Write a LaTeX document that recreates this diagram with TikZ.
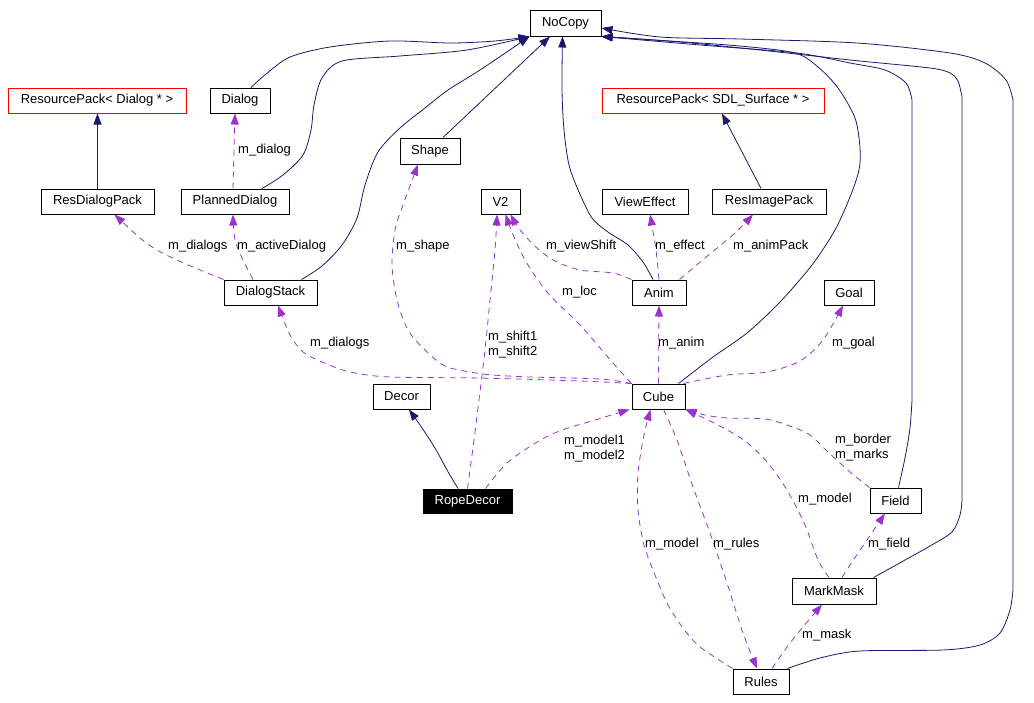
\documentclass[tikz,border=0pt]{standalone}
\usepackage{fontspec}
\setmainfont{Liberation Sans}
\usetikzlibrary{arrows.meta,calc}
\definecolor{navy}{HTML}{191970}
\definecolor{purp}{HTML}{9A32CD}
\begin{document}
\begin{tikzpicture}[x=1pt,y=-1pt,
  box/.style={draw=black,line width=1pt,minimum height=25pt,inner sep=0pt,font=\fontsize{13}{15}\selectfont},
  redbox/.style={box,draw=red},
  inh/.style={draw=navy,line width=0.8pt,-{Triangle[length=11pt,width=8pt]}},
  use/.style={draw=purp,line width=0.8pt,dash pattern=on 6pt off 5pt,-{Triangle[length=11pt,width=8pt]}},
  lbl/.style={anchor=west,inner sep=0pt,font=\fontsize{13}{15}\selectfont,align=left},
]
\useasboundingbox (0,0) rectangle (1034,702);
% nodes
\node[box,minimum width=71pt,minimum height=26pt] (NoCopy) at (565.5,23) {NoCopy};
\node[redbox,minimum width=178pt] (RPDialog) at (97,100.5) {ResourcePack< Dialog * >};
\node[box,minimum width=60pt] (Dialog) at (240,100.5) {Dialog};
\node[redbox,minimum width=222pt] (RPSDL) at (713,100.5) {ResourcePack< SDL\_Surface * >};
\node[box,minimum width=60pt,minimum height=26pt] (Shape) at (430,151) {Shape};
\node[box,minimum width=113pt] (ResDialogPack) at (97.5,201.5) {ResDialogPack};
\node[box,minimum width=108pt] (PlannedDialog) at (235,201.5) {PlannedDialog};
\node[box,minimum width=39pt] (V2) at (500.5,201.5) {V2};
\node[box,minimum width=86pt] (ViewEffect) at (645,201.5) {ViewEffect};
\node[box,minimum width=114pt] (ResImagePack) at (769,201.5) {ResImagePack};
\node[box,minimum width=93pt] (DialogStack) at (270.5,292.5) {DialogStack};
\node[box,minimum width=54pt] (Anim) at (659,292.5) {Anim};
\node[box,minimum width=50pt] (Goal) at (849,292.5) {Goal};
\node[box,minimum width=57pt] (Decor) at (401.5,396.5) {Decor};
\node[box,minimum width=53pt] (Cube) at (658.5,396.5) {Cube};
\node[box,fill=black,text=white,minimum width=89pt,minimum height=24pt] (RopeDecor) at (467.5,501) {RopeDecor};
\node[box,minimum width=51pt] (Field) at (895.5,500.5) {Field};
\node[box,minimum width=84pt,minimum height=26pt] (MarkMask) at (834,591) {MarkMask};
\node[box,minimum width=56pt] (Rules) at (761,681.5) {Rules};
% inheritance
\draw[inh] plot[smooth] coordinates {([xshift=11pt]Dialog.north) (266,74) (290,57) (330,47) (390,41) (450,43) (495,41) (NoCopy.south west)};
\draw[inh] plot[smooth] coordinates {([xshift=27pt]PlannedDialog.north) (283,175) (303,155) (311,130) (314,105) (322,78) (342,61) (400,56) (467,50) (NoCopy.south west)};
\draw[inh] plot[smooth] coordinates {([xshift=31pt]DialogStack.north) (322,266) (342,245) (357,218) (365,185) (378,152) (400,128) (425,108) (448,90) (480,70) (NoCopy.south west)};
\draw[inh] ([xshift=13pt]Shape.north) -- ([xshift=-15.5pt]NoCopy.south);
\draw[inh] plot[smooth] coordinates {([xshift=-6pt]Anim.north) (643,262) (628,245) (608,232) (592,218) (579,192) (569,165) (564,130) (562,90) ([xshift=-3pt]NoCopy.south)};
\draw[inh] plot[smooth] coordinates {([xshift=20pt]Cube.north) (713,357) (747,333) (780,302) (812,265) (835,230) (850,197) (859,170) (860,148) (855,118) (838,88) (818,67) (795,53) (740,46) (670,41) (NoCopy.south east)};
\draw[inh] plot[smooth] coordinates {([xshift=3pt]Field.north) (905,458) (910,428) (912,400)} -- plot[smooth] coordinates {(912,100) (906,83) (885,70) (850,63) (797,53) (700,45) (NoCopy.south east)};
\draw[inh] plot[smooth] coordinates {([xshift=-3pt]MarkMask.north east) (905,560) (930,546) (952,532) (960,515) (962,500)} -- plot[smooth] coordinates {(962,97) (958,81) (950,73) (930,68) (850,60) (760,50) (680,42) (NoCopy.south east)};
\draw[inh] plot[smooth] coordinates {([xshift=-2pt]Rules.north east) (820,658) (860,651) (943,650) (980,645) (1000,633) (1010,610) (1013,590)} -- plot[smooth] coordinates {(1013,100) (1006,80) (985,63) (950,53) (857,43) (740,39) (660,37) ([yshift=-5pt]NoCopy.east)};
\draw[inh] (ResDialogPack.north) -- (ResDialogPack.north |- RPDialog.south);
\draw[inh] ([xshift=-8pt]ResImagePack.north) -- ([xshift=9pt]RPSDL.south);
\draw[inh] plot[smooth] coordinates {([xshift=-9.5pt]RopeDecor.north) (447,470) (435,448) (420,425) ([xshift=7.5pt]Decor.south)};
% usage
\draw[use] ([xshift=-2pt]PlannedDialog.north) -- ([xshift=-5pt]Dialog.south);
\draw[use] plot[smooth] coordinates {(DialogStack.north west) (200,270) (177,260) (157,250) (140,238) ([xshift=17pt]ResDialogPack.south)};
\draw[use] plot[smooth] coordinates {([xshift=-17.5pt]DialogStack.north) (243,260) (235,240) ([xshift=-2pt]PlannedDialog.south)};
\draw[use] plot[smooth] coordinates {(Cube.north west) (600,379) (530,377) (493,375) (470,372) (445,366) (425,350) (408,330) (397,300) (392,265) (395,230) (403,205) ([xshift=-12pt]Shape.south)};
\draw[use] plot[smooth] coordinates {(Cube.north west) (580,381) (480,378) (390,377) (350,372) (322,362) (303,352) (290,335) ([xshift=7.5pt]DialogStack.south)};
\draw[use] plot[smooth] coordinates {(RopeDecor.north) (474,440) (479,400) (485,350) (490,300) (495,250) ([xshift=-3.5pt]V2.south)};
\draw[use] plot[smooth] coordinates {(Cube.north west) (613,363) (580,325) (547,292) (525,260) (512,232) ([xshift=5pt]V2.south)};
\draw[use] plot[smooth] coordinates {(Anim.north west) (613,273) (580,270) (555,261) (537,248) (520,230) ([xshift=-10pt]V2.south east)};
\draw[use] plot[smooth] coordinates {(Anim.north) (656,250) ([xshift=5pt]ViewEffect.south)};
\draw[use] plot[smooth] coordinates {([xshift=-7pt]Anim.north east) (705,258) (735,233) ([xshift=-16pt]ResImagePack.south)};
\draw[use] (Cube.north) -- (Anim.south);
\draw[use] plot[smooth] coordinates {([xshift=-2pt]Cube.north east) (727,375) (767,372) (800,361) (823,340) ([xshift=-6pt]Goal.south)};
\draw[use] plot[smooth] coordinates {([xshift=-27pt]RopeDecor.north east) (507,463) (537,442) (562,430) (595,420) ([xshift=-2pt]Cube.south west)};
\draw[use] plot[smooth] coordinates {(Rules.north west) (700,647) (683,628) (668,605) (655,575) (644,545) (638,510) (638,473) (644,435) ([xshift=-8pt]Cube.south)};
\draw[use] plot[smooth] coordinates {([xshift=5pt]Cube.south) (677,440) (693,487) (710,533) (727,583) (743,633) ([xshift=-4pt]Rules.north)};
\draw[use] plot[smooth] coordinates {([xshift=-5pt]MarkMask.north) (818,560) (805,525) (787,490) (767,462) (745,441) (718,425) (Cube.south east)};
\draw[use] plot[smooth] coordinates {(Field.north west) (850,472) (828,452) (810,435) (790,426) (765,419) (727,418) (705,415) (Cube.south east)};
\draw[use] plot[smooth] coordinates {([xshift=8pt]MarkMask.north) (852,562) (867,540) ([xshift=-10.5pt]Field.south)};
\draw[use] plot[smooth] coordinates {([xshift=11pt]Rules.north) (787,647) (802,628) ([xshift=-12pt]MarkMask.south)};
% labels
\node[lbl] (L1) at (238,150) {m\_dialog};
\node[lbl] (L2) at (168,246) {m\_dialogs};
\node[lbl] (L3) at (237,246) {m\_activeDialog};
\node[lbl] (L4) at (396,246) {m\_shape};
\node[lbl] (L5) at (546,246) {m\_viewShift};
\node[lbl] (L6) at (655,246) {m\_effect};
\node[lbl] (L7) at (733,246) {m\_animPack};
\node[lbl] (L8) at (562,292) {m\_loc};
\node[lbl] (L9) at (310,343) {m\_dialogs};
\node[lbl] (L10) at (488,344.5) {m\_shift1\\m\_shift2};
\node[lbl] (L11) at (658,343) {m\_anim};
\node[lbl] (L12) at (832,343) {m\_goal};
\node[lbl] (L13) at (564,448.5) {m\_model1\\m\_model2};
\node[lbl] (L14) at (835,448) {m\_border\\m\_marks};
\node[lbl] (L15) at (798,499) {m\_model};
\node[lbl] (L16) at (645,544) {m\_model};
\node[lbl] (L17) at (713,544) {m\_rules};
\node[lbl] (L18) at (868,544) {m\_field};
\node[lbl] (L19) at (802,635) {m\_mask};
\end{tikzpicture}
\end{document}
